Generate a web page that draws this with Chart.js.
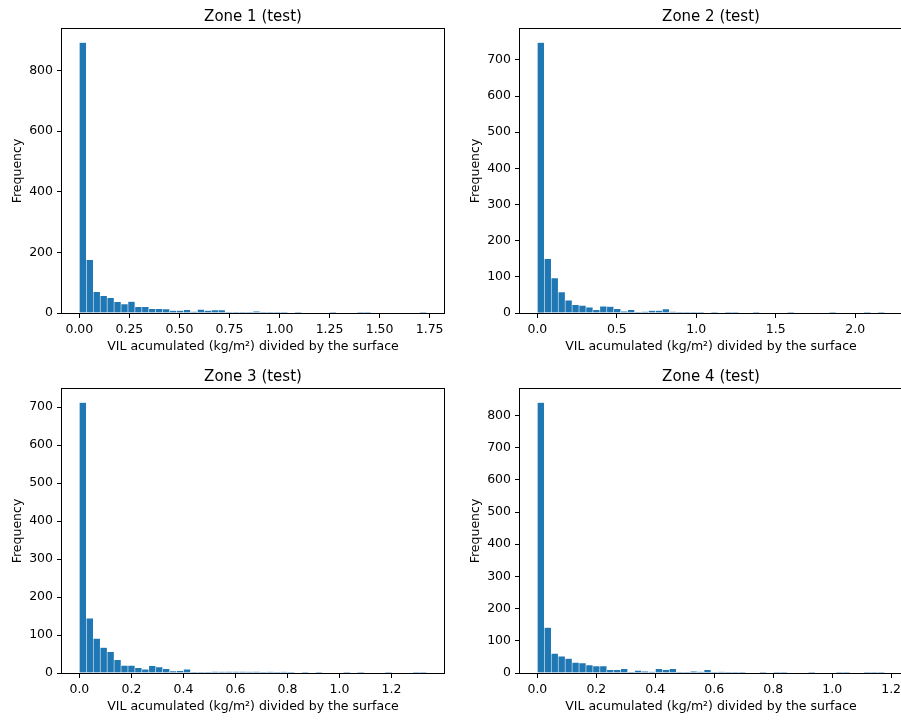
<!DOCTYPE html>
<html>
<head>
<meta charset="utf-8">
<script src="https://cdn.jsdelivr.net/npm/chart.js@4.4.1/dist/chart.umd.min.js"></script>
<style>
  html, body { margin: 0; padding: 0; background: #fff; overflow: hidden; }
  #figura { position: relative; width: 901px; height: 720px; overflow: hidden; background: #fff; }
  .panel { position: absolute; width: 450px; height: 360px; }
</style>
</head>
<body>
<div id="figura">
  <div class="panel" style="left:0px;top:0px"><canvas id="zona1" width="450" height="360"></canvas></div>
  <div class="panel" style="left:458px;top:0px"><canvas id="zona2" width="450" height="360"></canvas></div>
  <div class="panel" style="left:0px;top:360px"><canvas id="zona3" width="450" height="360"></canvas></div>
  <div class="panel" style="left:458px;top:360px"><canvas id="zona4" width="450" height="360"></canvas></div>
</div>
<script>
// Textos
const zoneTitles = ['Zone 1 (test)', 'Zone 2 (test)', 'Zone 3 (test)', 'Zone 4 (test)'];
const xLabel = 'VIL acumulated (kg/m²) divided by the surface';
const yLabel = 'Frequency';

// Limite superior de los bins de cada zona (el inferior es 0), 50 bins
const binMax = [1.735, 2.185, 1.335, 1.178];

// Frecuencias por bin
const counts1 = [892, 176, 70, 57, 50, 37, 30, 38, 21, 21, 14, 14, 13, 8, 8, 11, 5, 12, 8, 10,
                 10, 2, 2, 1, 2, 6, 2, 1, 1, 1, 0, 1, 0, 0, 0, 0, 1, 0, 0, 0,
                 1, 1, 0, 0, 0, 0, 0, 0, 0, 1];
const counts2 = [748, 150, 97, 58, 35, 23, 21, 16, 9, 19, 18, 12, 5, 9, 3, 4, 7, 7, 11, 4,
                 2, 1, 1, 1, 0, 3, 0, 1, 1, 0, 0, 1, 0, 0, 0, 0, 1, 0, 0, 0,
                 0, 0, 2, 0, 0, 0, 0, 1, 0, 1];
const counts3 = [712, 144, 91, 67, 56, 35, 20, 20, 14, 10, 19, 16, 11, 5, 6, 10, 1, 2, 2, 4,
                 3, 4, 4, 4, 3, 4, 1, 3, 1, 3, 1, 0, 2, 0, 1, 0, 0, 0, 1, 0,
                 1, 0, 0, 0, 1, 0, 0, 0, 1, 2];
const counts4 = [840, 141, 61, 52, 45, 33, 31, 25, 22, 22, 10, 10, 13, 3, 8, 5, 4, 13, 10, 13,
                 3, 1, 5, 4, 10, 2, 4, 1, 1, 2, 0, 0, 1, 0, 1, 1, 0, 0, 0, 2,
                 0, 0, 0, 1, 1, 0, 0, 1, 1, 1];

// Marcas de los ejes
const xTicks1 = ['0.00', '0.25', '0.50', '0.75', '1.00', '1.25', '1.50', '1.75'];
const xTicks2 = ['0.0', '0.5', '1.0', '1.5', '2.0'];
const xTicks3 = ['0.0', '0.2', '0.4', '0.6', '0.8', '1.0', '1.2'];
const xTicks4 = ['0.0', '0.2', '0.4', '0.6', '0.8', '1.0', '1.2'];
const yTicks1 = [0, 200, 400, 600, 800];
const yTicks2 = [0, 100, 200, 300, 400, 500, 600, 700];
const yTicks3 = [0, 100, 200, 300, 400, 500, 600, 700];
const yTicks4 = [0, 100, 200, 300, 400, 500, 600, 700, 800];

const FUENTE = 'DejaVu Sans';
const fuenteEje = { family: FUENTE, size: 12.5 };

// Dibuja el marco completo alrededor del area del grafico
const marco = {
    id: 'marco',
    afterDraw: function (chart) {
        const a = chart.chartArea;
        const ctx = chart.ctx;
        ctx.save();
        ctx.strokeStyle = '#000';
        ctx.lineWidth = 1;
        ctx.strokeRect(Math.round(a.left) - 0.5, Math.round(a.top) - 0.5,
            Math.round(a.right - a.left) + 1, Math.round(a.bottom - a.top) + 1);
        ctx.restore();
    }
};

function crearHistograma(canvasId, titulo, counts, maxX, xTicks, yTicks) {
    const ancho = maxX / counts.length;
    const puntos = counts.map(function (c, i) {
        return { x: (i + 0.5) * ancho, y: c };
    });
    const ctx = document.getElementById(canvasId).getContext('2d');
    return new Chart(ctx, {
        type: 'bar',
        data: {
            datasets: [{
                data: puntos,
                backgroundColor: '#1f77b4',
                borderColor: 'rgba(255, 255, 255, 0.5)',
                borderWidth: 0.6,
                barPercentage: 1,
                categoryPercentage: 1
            }]
        },
        options: {
            responsive: false,
            animation: false,
            devicePixelRatio: 1,
            layout: { padding: { left: 0, right: 6, top: 0, bottom: 0 } },
            plugins: {
                legend: { display: false },
                tooltip: { enabled: false },
                title: {
                    display: true,
                    text: titulo,
                    fullSize: false,
                    color: '#000',
                    font: { family: FUENTE, size: 15, weight: 'normal' },
                    padding: { top: 8, bottom: 3 }
                }
            },
            scales: {
                x: {
                    type: 'linear',
                    offset: false,
                    min: -0.05 * maxX,
                    max: 1.05 * maxX,
                    grid: { display: true, offset: false, drawOnChartArea: false, drawTicks: true, tickLength: 5, color: '#000' },
                    border: { display: false },
                    ticks: {
                        color: '#000',
                        font: fuenteEje,
                        padding: 4,
                        maxRotation: 0,
                        autoSkip: false,
                        callback: function (v, i) { return xTicks[i]; }
                    },
                    afterBuildTicks: function (axis) {
                        axis.ticks = xTicks.map(function (t) { return { value: parseFloat(t) }; });
                    },
                    afterFit: function (axis) { axis.height = 47; },
                    title: { display: true, text: xLabel, color: '#000', font: fuenteEje, padding: { top: 0, bottom: 6 } }
                },
                y: {
                    min: 0,
                    max: 1.05 * Math.max.apply(null, counts),
                    grid: { display: true, offset: false, drawOnChartArea: false, drawTicks: true, tickLength: 5, color: '#000' },
                    border: { display: false },
                    ticks: { color: '#000', font: fuenteEje, padding: 4 },
                    afterBuildTicks: function (axis) {
                        axis.ticks = yTicks.map(function (t) { return { value: t }; });
                    },
                    afterFit: function (axis) { axis.width = 62; },
                    title: { display: true, text: yLabel, color: '#000', font: fuenteEje, padding: { top: 10, bottom: 0 } }
                }
            }
        },
        plugins: [marco]
    });
}

crearHistograma('zona1', zoneTitles[0], counts1, binMax[0], xTicks1, yTicks1);
crearHistograma('zona2', zoneTitles[1], counts2, binMax[1], xTicks2, yTicks2);
crearHistograma('zona3', zoneTitles[2], counts3, binMax[2], xTicks3, yTicks3);
crearHistograma('zona4', zoneTitles[3], counts4, binMax[3], xTicks4, yTicks4);
</script>
</body>
</html>
